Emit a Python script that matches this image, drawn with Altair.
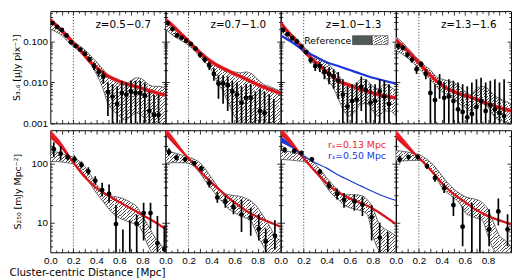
import altair as alt
import pandas as pd

FONT = "Liberation Sans"
FONT2 = "DejaVu Sans"
W, HT, HB = 117, 114, 124

# ---------------- shared grids ----------------
BAND_X = [0.0, 0.05, 0.1, 0.15, 0.2, 0.25, 0.3, 0.35, 0.4, 0.45, 0.5,
          0.55, 0.6, 0.65, 0.7, 0.75, 0.8, 0.85, 0.9, 0.95, 1.0]
CURVE_X = BAND_X
CURVE_X11 = [0.0, 0.1, 0.2, 0.3, 0.4, 0.5, 0.6, 0.7, 0.8, 0.9, 1.0]
WEDGE_X = [0.0, 0.1, 0.2]

TOP_LABELS = ["z=0.5\u22120.7", "z=0.7\u22121.0", "z=1.0\u22121.3", "z=1.3\u22121.6"]
TOP_TICKS = [0.001, 0.01, 0.1]
TOP_MINOR = [0.002, 0.003, 0.004, 0.005, 0.006, 0.007, 0.008, 0.009,
             0.02, 0.03, 0.04, 0.05, 0.06, 0.07, 0.08, 0.09, 0.2, 0.3, 0.4, 0.5]
BOT_TICKS = [10, 100]
BOT_MINOR = [4, 5, 6, 7, 8, 9, 20, 30, 40, 50, 60, 70, 80, 90, 200, 300]
X_TICKS = [0.0, 0.2, 0.4, 0.6, 0.8]
X_MAJOR_T = [0.1, 0.2, 0.3, 0.4, 0.5, 0.6, 0.7, 0.8, 0.9]
X_MINOR_T = [0.05, 0.15, 0.25, 0.35, 0.45, 0.55, 0.65, 0.75, 0.85, 0.95]
YDOM_TOP = [0.001, 0.55]
YDOM_BOT = [3.15, 375]

# ---------------- top row: S3.6 ----------------
TOP_PX = [0.02, 0.06, 0.10, 0.14, 0.18, 0.22, 0.26, 0.30, 0.34, 0.38, 0.42, 0.46,
          0.50, 0.54, 0.58, 0.62, 0.66, 0.70, 0.74, 0.78, 0.82, 0.86, 0.90, 0.94]

T1_Y = [0.28, 0.225, 0.19, 0.14, 0.095, 0.078, 0.063, 0.05, 0.037, 0.025, 0.018, 0.014,
        0.0058, 0.0045, 0.003, 0.0055, 0.005, 0.006, 0.0055, 0.0055, 0.0048, 0.002, 0.0016, 0.0016]
T1_LO = [0.25, 0.2, 0.17, 0.125, 0.085, 0.07, 0.056, 0.044, 0.032, 0.02, 0.014, 0.0095,
         0.0015, 0.001, 0.001, 0.001, 0.001, 0.001, 0.001, 0.001, 0.001, 0.001, 0.001, 0.001]
T1_HI = [0.31, 0.25, 0.21, 0.155, 0.105, 0.086, 0.07, 0.056, 0.042, 0.03, 0.022, 0.019,
         0.01, 0.009, 0.008, 0.011, 0.01, 0.011, 0.011, 0.011, 0.0095, 0.006, 0.005, 0.005]

T2_Y = [0.28, 0.2, 0.14, 0.124, 0.104, 0.087, 0.067, 0.047, 0.036, 0.026, 0.016, 0.0094,
        0.0094, 0.0085, 0.006, 0.005, 0.0032, 0.0042, 0.0042, None, 0.002, 0.0018, None, None]
T2_LO = [0.25, 0.18, 0.125, 0.11, 0.094, 0.078, 0.06, 0.04, 0.03, 0.02, 0.011, 0.004,
         0.003, 0.002, 0.001, 0.001, 0.001, 0.001, 0.001, 0.001, 0.001, 0.001, 0.001, 0.001]
T2_HI = [0.31, 0.22, 0.155, 0.138, 0.115, 0.096, 0.075, 0.055, 0.043, 0.032, 0.022, 0.015,
         0.015, 0.014, 0.011, 0.01, 0.008, 0.009, 0.009, 0.006, 0.007, 0.006, 0.005, 0.004]

T3_Y = [0.19, 0.15, 0.12, 0.1, 0.075, 0.055, 0.035, 0.025, 0.025, 0.018, 0.016, 0.014,
        0.011, 0.005, 0.0026, 0.0035, 0.0038, 0.0078, 0.0065, 0.0032, 0.0035, 0.006, 0.0045, 0.003]
T3_LO = [0.17, 0.135, 0.105, 0.088, 0.066, 0.048, 0.029, 0.019, 0.018, 0.012, 0.009, 0.007,
         0.004, 0.001, 0.001, 0.001, 0.001, 0.002, 0.001, 0.001, 0.001, 0.001, 0.001, 0.001]
T3_HI = [0.21, 0.165, 0.135, 0.112, 0.084, 0.062, 0.041, 0.031, 0.032, 0.024, 0.023, 0.021,
         0.018, 0.012, 0.008, 0.009, 0.01, 0.014, 0.012, 0.009, 0.009, 0.012, 0.011, 0.009]

T4_Y = [0.078, 0.07, 0.047, 0.036, 0.021, 0.028, 0.016, 0.0055, 0.0037, 0.0097, 0.0042, 0.0045,
        0.0035, 0.0022, 0.0019, 0.0014, 0.0017, 0.0025, 0.0035, 0.002, 0.0028, 0.0022, 0.0018, 0.0015]
T4_LO = [0.065, 0.06, 0.04, 0.03, 0.016, 0.024, 0.012, 0.001, 0.001, 0.004, 0.001, 0.001,
         0.001, 0.001, 0.001, 0.001, 0.001, 0.001, 0.001, 0.001, 0.001, 0.001, 0.001, 0.001]
T4_HI = [0.09, 0.08, 0.055, 0.042, 0.026, 0.033, 0.021, 0.012, 0.009, 0.016, 0.01, 0.012,
         0.011, 0.01, 0.009, 0.008, 0.01, 0.012, 0.013, 0.01, 0.011, 0.012, 0.01, 0.012]

T1_BLO = [0.2, 0.17, 0.14, 0.1, 0.075, 0.058, 0.042, 0.028, 0.016, 0.008, 0.003, 0.002,
          0.0015, 0.0012, 0.0015, 0.0018, 0.0015, 0.001, 0.001, 0.001, 0.001]
T1_BHI = [0.32, 0.25, 0.2, 0.15, 0.1, 0.08, 0.062, 0.045, 0.032, 0.022, 0.015, 0.011,
          0.009, 0.009, 0.011, 0.013, 0.012, 0.009, 0.008, 0.008, 0.007]
T2_BLO = [0.2, 0.15, 0.12, 0.1, 0.08, 0.06, 0.042, 0.03, 0.02, 0.01, 0.006, 0.003,
          0.0015, 0.001, 0.001, 0.001, 0.0012, 0.0012, 0.001, 0.001, 0.001]
T2_BHI = [0.32, 0.22, 0.17, 0.13, 0.1, 0.08, 0.06, 0.045, 0.033, 0.025, 0.02, 0.018,
          0.018, 0.017, 0.018, 0.016, 0.012, 0.009, 0.008, 0.007, 0.006]
T3_BLO = [0.18, 0.13, 0.1, 0.08, 0.055, 0.04, 0.025, 0.018, 0.012, 0.008, 0.004, 0.002,
          0.0015, 0.002, 0.003, 0.003, 0.002, 0.0015, 0.002, 0.002, 0.0015]
T3_BHI = [0.3, 0.2, 0.15, 0.11, 0.075, 0.055, 0.04, 0.035, 0.03, 0.022, 0.015, 0.01,
          0.008, 0.009, 0.012, 0.011, 0.008, 0.007, 0.009, 0.008, 0.006]
T4_BLO = [0.06, 0.05, 0.04, 0.03, 0.022, 0.016, 0.012, 0.008, 0.006, 0.005, 0.004, 0.003,
          0.0025, 0.002, 0.0025, 0.003, 0.0025, 0.0015, 0.0012, 0.0011, 0.001]
T4_BHI = [0.13, 0.1, 0.07, 0.05, 0.035, 0.026, 0.02, 0.014, 0.012, 0.011, 0.01, 0.008,
          0.006, 0.005, 0.007, 0.008, 0.007, 0.005, 0.004, 0.0035, 0.003]

T1_RED = [0.34, 0.25, 0.18, 0.13, 0.092, 0.065, 0.045, 0.031, 0.023, 0.018, 0.0143, 0.0122,
          0.0106, 0.0094, 0.0085, 0.0078, 0.0071, 0.0064, 0.0058, 0.0053, 0.0049]
T2_RED = [0.34, 0.26, 0.19, 0.14, 0.1, 0.072, 0.052, 0.04, 0.032, 0.026, 0.022, 0.019,
          0.016, 0.014, 0.012, 0.0103, 0.0088, 0.0077, 0.0068, 0.006, 0.0053]
T3_RED = [0.28, 0.19, 0.13, 0.09, 0.06, 0.043, 0.032, 0.024, 0.018, 0.014, 0.0105, 0.0095,
          0.0085, 0.0075, 0.0067, 0.006, 0.0055, 0.005, 0.0047, 0.0044, 0.0042]
T4_RED = [0.11, 0.08, 0.06, 0.042, 0.03, 0.021, 0.015, 0.011, 0.0085, 0.007, 0.006, 0.0053,
          0.0048, 0.0043, 0.0039, 0.0034, 0.003, 0.0027, 0.0024, 0.0022, 0.002]
T3_BLUE = [0.14, 0.095, 0.06, 0.043, 0.031, 0.025, 0.02, 0.016, 0.013, 0.011, 0.0093]

# ---------------- bottom row: S250 ----------------
B1_PX = [0.03, 0.09, 0.15, 0.21, 0.27, 0.33, 0.39, 0.45, 0.51, 0.57, 0.63, 0.69, 0.75, 0.81, 0.87, 0.93, 0.99]
B1_Y = [178, 150, 131, 120, 96, 75, 52, 36, 31, 9.5, None, None, 9.5, 14.6, 14.6, 4.5, 3.6]
B1_LO = [130, 115, 115, 105, 85, 65, 45, 28, 22, 3, 3, 3, 3, 5, 8, 3, 3]
B1_HI = [235, 200, 150, 140, 110, 88, 62, 48, 45, 20, 7.7, 11, 13.5, 22, 22, 13, 9]

B2_PX = [0.03, 0.095, 0.17, 0.25, 0.31, 0.38, 0.45, 0.52, 0.59, 0.66, 0.74, 0.81, 0.87, 0.95]
B2_Y = [160, 128, 120, 103, 83, 47, 27, 23, 18.5, 13.8, 12.2, 7.9, 4.8, 6]
B2_LO = [140, 115, 108, 95, 75, 40, 22, 18, 14, 7, 6, 5, 3, 3.5]
B2_HI = [185, 145, 132, 112, 92, 55, 33, 29, 24, 25, 18, 14, 8, 11]

B3_PX = [0.034, 0.118, 0.18, 0.27, 0.34, 0.42, 0.49, 0.55, 0.64, 0.71, 0.79, 0.86, 0.93]
B3_Y = [173, 167, 154, 120, 74, 43, 31, 24.5, 23, 20.4, 12.4, 5.6, None]
B3_LO = [155, 150, 140, 108, 66, 37, 25, 18, 16, 13, 5, 3, 3]
B3_HI = [195, 185, 168, 132, 82, 50, 38, 32, 30, 28, 20, 10, 7]

B4_PX = [0.034, 0.11, 0.19, 0.27, 0.34, 0.42, 0.50, 0.58, 0.66, 0.73, 0.81, 0.89, 0.97]
B4_Y = [120, 131, 131, 92, 58, 38.5, 20, 8.6, None, None, 7.8, 15.6, 7.7]
B4_LO = [105, 118, 118, 82, 50, 32, 13, 4, 3, 3, 4, 9, 4]
B4_HI = [138, 145, 145, 102, 66, 46, 28, 19, 22, 14, 17, 26, 14]

B1_BLO = [110, 110, 108, 105, 100, 85, 65, 45, 32, 24, 18, 14, 12, 11, 10, 9.5, 7, 4, 3, 3, 3]
B1_BHI = [155, 160, 150, 140, 130, 112, 90, 65, 45, 35, 30, 28, 27, 25, 22, 19, 13, 9, 6, 4.5, 3.5]
B2_BLO = [105, 105, 105, 105, 102, 90, 70, 50, 38, 28, 22, 17, 15, 13, 12, 10, 6, 4, 3, 3, 3]
B2_BHI = [165, 160, 150, 140, 130, 120, 105, 80, 58, 42, 33, 30, 29, 28, 26, 23, 18, 13, 9, 6, 5]
B3_BLO = [120, 118, 116, 113, 110, 95, 75, 55, 40, 30, 25, 20, 18, 17, 16, 14, 6, 3.5, 3, 3, 3]
B3_BHI = [170, 165, 160, 150, 140, 120, 100, 78, 58, 45, 36, 30, 30, 30, 29, 25, 18, 10, 8, 7, 6]
B4_BLO = [110, 112, 114, 115, 115, 100, 80, 58, 40, 32, 27, 22, 15, 13, 12, 11, 6, 3.5, 3, 3, 3]
B4_BHI = [170, 165, 160, 152, 145, 128, 108, 85, 63, 48, 38, 32, 28, 26, 25, 22, 17, 10, 6, 5, 4]

B1_RED = [290, 190, 106, 60, 39, 29, 22.5, 17.5, 13.5, 10.5, 7.8]
B2_RED = [330, 200, 125, 75, 48, 32, 22, 16, 12.5, 10.3, 8.6]
B3_RED = [330, 210, 125, 75, 47, 33, 26, 21.5, 17.5, 13, 9.5]
B4_RED = [290, 190, 128, 80, 47, 31, 22.5, 16.5, 13, 11, 9.5]
B3_BLUE = [240, 190, 135, 105, 85, 65, 52, 42, 34, 28, 24]
# upper edge of the widening red / blue model envelopes near the centre
B1_RED_UP = [380, 225, 108]
B2_RED_UP = [420, 235, 127]
B3_RED_UP = [420, 245, 127]
B4_RED_UP = [380, 225, 130]
B3_BLUE_UP = [300, 205, 137]

RED = "#ee1c24"
DARKRED = "#a01418"
BLUE = "#1a36d8"


def hatch(n, frac=0.28, c1="#4d4d4d", c2="#ffffff"):
    stops = []
    for k in range(n):
        a, b, c = k / n, (k + frac) / n, (k + 1) / n
        stops += [alt.GradientStop(color=c1, offset=a), alt.GradientStop(color=c1, offset=b),
                  alt.GradientStop(color=c2, offset=b), alt.GradientStop(color=c2, offset=c)]
    return alt.Gradient(gradient="linear", stops=stops, x1=0, y1=0, x2=1, y2=1)


def df(x, y, y2=None):
    d = {"x": x, "y": y}
    if y2 is not None:
        d["y2"] = y2
    return pd.DataFrame(d)


def tick_axis(orient, offset, values, size):
    return alt.Axis(orient=orient, offset=offset, values=values, labels=False, ticks=True,
                    tickSize=size, tickColor="black", tickWidth=0.8, domain=False,
                    grid=False, title=None)


def panel(col, row, px, py, plo, phi, blo, bhi, red, red_x, blue=None, blue_x=None,
          red_up=None, blue_up=None):
    h = HT if row == 0 else HB
    xs = alt.Scale(domain=[0, 1], nice=False, zero=False)
    ys = alt.Scale(type="log", domain=YDOM_TOP if row == 0 else YDOM_BOT, nice=False)
    ymaj = TOP_TICKS if row == 0 else BOT_TICKS
    ymin = TOP_MINOR if row == 0 else BOT_MINOR
    if row == 1:
        xa = alt.Axis(values=X_TICKS, format=".1f", labelFlush=False, labelFontSize=10,
                      labelPadding=3, ticks=False, domain=False, grid=False,
                      title="Cluster-centric Distance [Mpc]" if col == 0 else None,
                      titleFont=FONT2, titleFontSize=10.5, titleFontWeight="normal",
                      titleX=-42, titleAlign="left", titlePadding=3)
    else:
        xa = None
    if col == 0:
        if row == 0:
            ya = alt.Axis(values=TOP_TICKS, format=".3f", labelFontSize=10, labelPadding=3,
                          ticks=False, domain=False, grid=False,
                          title="S\u2083.\u2086 [\u03bcJy pix\u207b\u00b9]", titleFont=FONT2,
                          titleFontSize=9.5, titleFontWeight="normal", titlePadding=1)
        else:
            ya = alt.Axis(values=BOT_TICKS, format="d", labelFontSize=10, labelPadding=3,
                          ticks=False, domain=False, grid=False,
                          title="S\u2082\u2085\u2080 [mJy Mpc\u207b\u00b2]", titleFont=FONT2,
                          titleFontSize=9.5, titleFontWeight="normal", titlePadding=9)
    else:
        ya = None
    X = alt.X("x:Q", scale=xs, axis=xa)
    Y = alt.Y("y:Q", scale=ys, axis=ya)
    Xn = alt.X("x:Q", scale=xs, axis=None)
    Yn = alt.Y("y:Q", scale=ys, axis=None)

    layers = []
    layers.append(alt.Chart(df(BAND_X, blo, bhi)).mark_area(
        fill=hatch(62), stroke="#333333", strokeWidth=0.7, interpolate="monotone", clip=True
    ).encode(x=X, y=Y, y2="y2:Q"))
    layers.append(alt.Chart(pd.DataFrame({"x": [0.2]})).mark_rule(
        color="black", strokeWidth=0.8, strokeDash=[1, 2]).encode(x=Xn))
    rw = 3.6 if row == 0 else 2.4
    if red_up is not None:
        layers.append(alt.Chart(df(WEDGE_X, red[:3], red_up)).mark_area(
            color=RED, interpolate="monotone", clip=True).encode(x=Xn, y=Yn, y2="y2:Q"))
    if blue_up is not None:
        layers.append(alt.Chart(df(WEDGE_X, blue[:3], blue_up)).mark_area(
            color=BLUE, interpolate="monotone", clip=True).encode(x=Xn, y=Yn, y2="y2:Q"))
    layers.append(alt.Chart(df(red_x, red)).mark_line(
        color=RED, strokeWidth=rw, interpolate="monotone", clip=True).encode(x=Xn, y=Yn))
    layers.append(alt.Chart(df(red_x, red)).mark_line(
        color=DARKRED, strokeWidth=0.8, interpolate="monotone", clip=True).encode(x=Xn, y=Yn))
    if blue is not None:
        layers.append(alt.Chart(df(blue_x, blue)).mark_line(
            color=BLUE, strokeWidth=2.2 if row == 0 else 1.2, interpolate="monotone",
            clip=True).encode(x=Xn, y=Yn))
    layers.append(alt.Chart(df(px, plo, phi)).mark_rule(
        color="black", strokeWidth=1.7, clip=True).encode(x=Xn, y=Yn, y2="y2:Q"))
    layers.append(alt.Chart(df(px, py)).mark_circle(
        color="black", size=24, opacity=1, clip=True).encode(x=Xn, y=Yn))

    # inward ticks on all four edges (major + minor)
    ymid = [ymaj[0]]
    for (xo, yo, xv, yv, sz) in [
        ("top", "right", X_MAJOR_T, ymaj, 4),
        ("bottom", "left", X_MAJOR_T, ymaj, 4),
        ("top", "right", X_MINOR_T, ymin, 2.2),
        ("bottom", "left", X_MINOR_T, ymin, 2.2),
    ]:
        layers.append(alt.Chart(df([0.5], ymid)).mark_point(opacity=0).encode(
            x=alt.X("x:Q", scale=xs, axis=tick_axis(xo, -h, xv, sz)),
            y=alt.Y("y:Q", scale=ys, axis=tick_axis(yo, -W, yv, sz)),
        ))

    if row == 0:
        layers.append(alt.Chart(pd.DataFrame({"t": [TOP_LABELS[col]]})).mark_text(
            font=FONT2, fontSize=10.5, align="center", baseline="middle", color="black"
        ).encode(x=alt.value(74), y=alt.value(14), text="t:N"))
        if col == 2:
            layers.append(alt.Chart(pd.DataFrame({"t": ["Reference"]})).mark_text(
                font=FONT2, fontSize=9.5, align="left", baseline="middle", color="black"
            ).encode(x=alt.value(24), y=alt.value(30), text="t:N"))
            layers.append(alt.Chart(pd.DataFrame({"t": [0]})).mark_rect(
                color="#4f5a58", stroke="#333333", strokeWidth=0.6
            ).encode(x=alt.value(73), x2=alt.value(93), y=alt.value(25), y2=alt.value(34)))
            layers.append(alt.Chart(pd.DataFrame({"t": [0]})).mark_rect(
                fill=hatch(7, frac=0.35, c1="#666666"), stroke="#333333", strokeWidth=0.6
            ).encode(x=alt.value(93), x2=alt.value(109), y=alt.value(25), y2=alt.value(34)))
    else:
        if col == 2:
            layers.append(alt.Chart(pd.DataFrame({"t": ["r\u209b=0.13 Mpc"]})).mark_text(
                font=FONT2, fontSize=9.5, align="left", baseline="middle", color=RED
            ).encode(x=alt.value(48), y=alt.value(15), text="t:N"))
            layers.append(alt.Chart(pd.DataFrame({"t": ["r\u209b=0.50 Mpc"]})).mark_text(
                font=FONT2, fontSize=9.5, align="left", baseline="middle", color=BLUE
            ).encode(x=alt.value(48), y=alt.value(26), text="t:N"))

    return alt.layer(*layers).resolve_axis(x="independent", y="independent").properties(
        width=W, height=h)


top = [
    panel(0, 0, TOP_PX, T1_Y, T1_LO, T1_HI, T1_BLO, T1_BHI, T1_RED, CURVE_X),
    panel(1, 0, TOP_PX, T2_Y, T2_LO, T2_HI, T2_BLO, T2_BHI, T2_RED, CURVE_X),
    panel(2, 0, TOP_PX, T3_Y, T3_LO, T3_HI, T3_BLO, T3_BHI, T3_RED, CURVE_X, T3_BLUE, CURVE_X11),
    panel(3, 0, TOP_PX, T4_Y, T4_LO, T4_HI, T4_BLO, T4_BHI, T4_RED, CURVE_X),
]
bottom = [
    panel(0, 1, B1_PX, B1_Y, B1_LO, B1_HI, B1_BLO, B1_BHI, B1_RED, CURVE_X11, red_up=B1_RED_UP),
    panel(1, 1, B2_PX, B2_Y, B2_LO, B2_HI, B2_BLO, B2_BHI, B2_RED, CURVE_X11, red_up=B2_RED_UP),
    panel(2, 1, B3_PX, B3_Y, B3_LO, B3_HI, B3_BLO, B3_BHI, B3_RED, CURVE_X11, B3_BLUE, CURVE_X11,
          red_up=B3_RED_UP, blue_up=B3_BLUE_UP),
    panel(3, 1, B4_PX, B4_Y, B4_LO, B4_HI, B4_BLO, B4_BHI, B4_RED, CURVE_X11, red_up=B4_RED_UP),
]

chart = alt.vconcat(
    alt.hconcat(*top, spacing=0, bounds="flush"),
    alt.hconcat(*bottom, spacing=0, bounds="flush"),
    spacing=0,
).properties(
    padding={"left": 0, "top": 0, "right": 0, "bottom": 0}, background="white"
).configure_view(
    stroke="black", strokeWidth=1
).configure_axis(
    labelFont=FONT, titleFont=FONT, labelColor="black", titleColor="black"
)

chart.save("out.html", embed_options={"renderer": "svg", "actions": False})
